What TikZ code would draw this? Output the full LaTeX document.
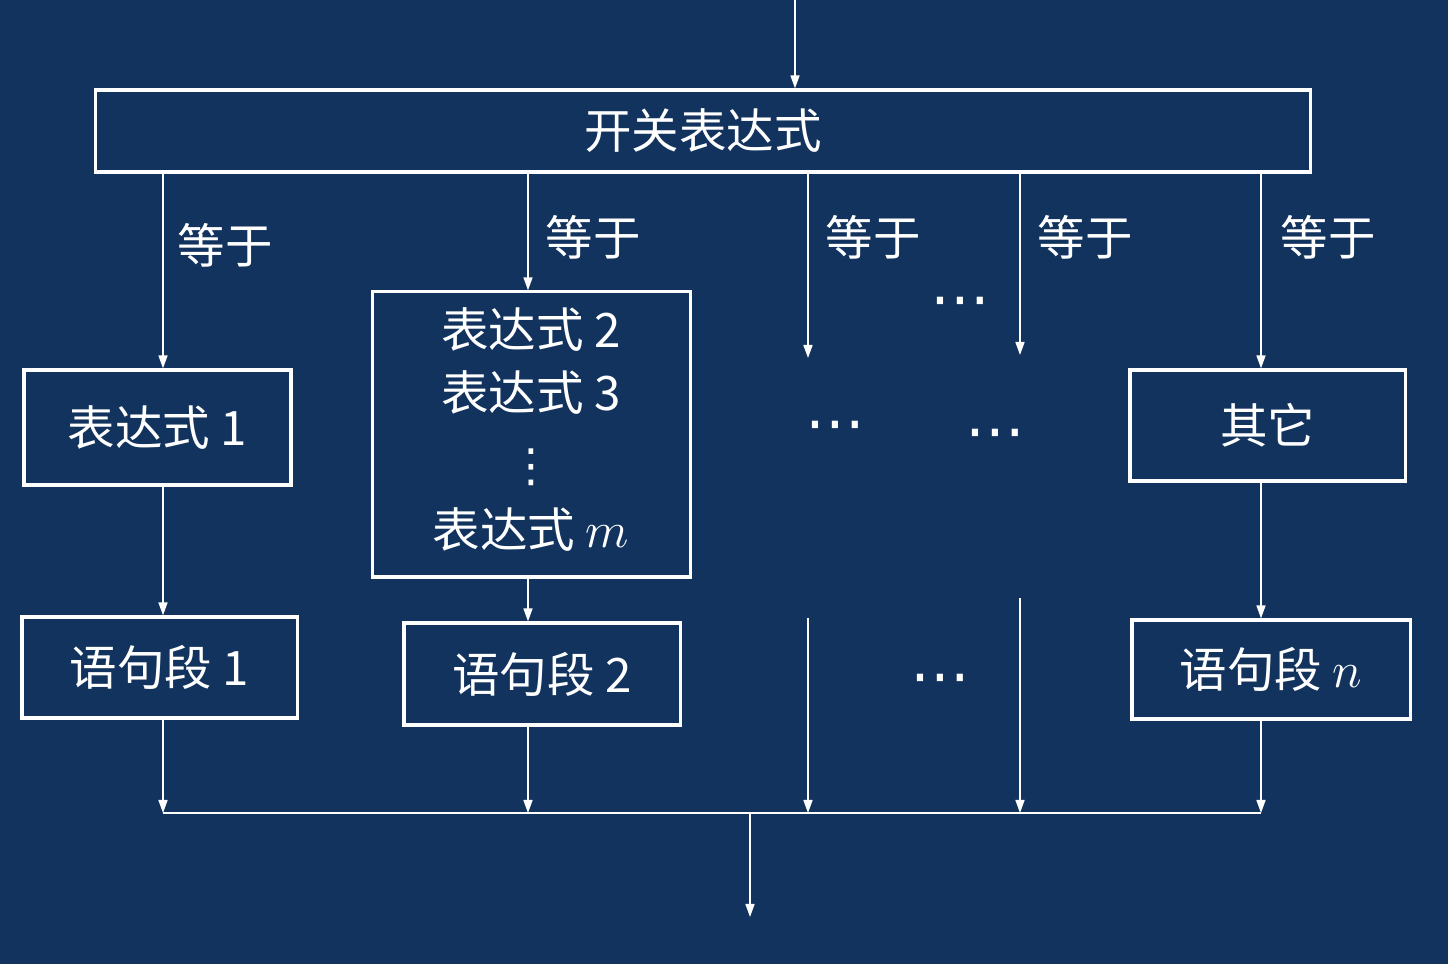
\documentclass[tikz,border=0pt]{standalone}
\usepackage{fontspec}
\setmainfont{Noto Sans CJK SC}
\newfontfamily\symfont{DejaVu Sans}
\usetikzlibrary{arrows.meta}
\definecolor{slidebg}{RGB}{18,51,94}
\newcommand\dotrow{{\symfont\fontsize{17}{18}\selectfont ⋯}}
\newcommand\dotcol{{\symfont\fontsize{13}{14}\selectfont ⋮}}
\tikzset{
  box/.style={draw=white,line width=0.9pt,inner sep=0pt,text=white},
  lbl/.style={text=white,inner sep=0pt},
  flow/.style={draw=white,line width=0.45pt,->}
}
\begin{document}
\begin{tikzpicture}[x=0.01cm,y=-0.01cm,>={Triangle[length=1.3mm,width=0.9mm]},
  font=\fontsize{13.5}{18}\selectfont]
  \fill[slidebg] (0,0) rectangle (1448,964);
  \useasboundingbox (0,0) rectangle (1448,964);
  % columns
  \coordinate (c1) at (163,0);
  \coordinate (c2) at (528,0);
  \coordinate (c3) at (808,0);
  \coordinate (c4) at (1020,0);
  \coordinate (c5) at (1261,0);
  \coordinate (in) at (795,0);
  \coordinate (out) at (750,917);
  \coordinate (bus) at (0,813);
  % boxes
  \node[box,minimum width=12.14cm,minimum height=0.82cm] (switch) at (703,131) {开关表达式};
  \node[box,minimum width=2.67cm,minimum height=1.15cm] (case1) at (157.5,427.5) {表达式 1};
  \node[box,minimum width=3.17cm,minimum height=2.85cm] (case2) at (531.5,434.5) {};
  \node[box,minimum width=2.75cm,minimum height=1.11cm] (other) at (1267.5,425.5) {其它};
  \node[box,minimum width=2.75cm,minimum height=1.01cm] (stmt1) at (159.5,667.5) {语句段 1};
  \node[box,minimum width=2.76cm,minimum height=1.02cm] (stmt2) at (542,674) {语句段 2};
  \node[box,minimum width=2.78cm,minimum height=0.99cm] (stmtn) at (1271,669.5) {语句段 $n$};
  % lines inside case2
  \node[lbl] (expr2) at (531,330) {表达式 2};
  \node[lbl] (expr3) at (531,393) {表达式 3};
  \node[lbl] (vdots) at (531,467) {\dotcol};
  \node[lbl] (exprm) at (531,530) {表达式 $m$};
  % labels
  \node[lbl] (eq1) at (225,245) {等于};
  \node[lbl] (eq2) at (593,237) {等于};
  \node[lbl] (eq3) at (873,237) {等于};
  \node[lbl] (eq4) at (1085,237) {等于};
  \node[lbl] (eq5) at (1328,237) {等于};
  \node[lbl] (dotsA) at (960,308) {\dotrow};
  \node[lbl] (dotsB) at (835,432) {\dotrow};
  \node[lbl] (dotsC) at (995,440) {\dotrow};
  \node[lbl] (dotsD) at (940,685) {\dotrow};
  % free ends
  \coordinate (e3) at (808,358);
  \coordinate (e4) at (1020,355);
  \coordinate (s3) at (808,618);
  \coordinate (s4) at (1020,598);
  % connectors
  \draw[flow] (in) -- (switch.north -| in);
  \draw[flow] (switch.south -| c1) -- (case1.north -| c1);
  \draw[flow] (switch.south -| c2) -- (case2.north -| c2);
  \draw[flow] (switch.south -| c3) -- (e3);
  \draw[flow] (switch.south -| c4) -- (e4);
  \draw[flow] (switch.south -| c5) -- (other.north -| c5);
  \draw[flow] (case1.south -| c1) -- (stmt1.north -| c1);
  \draw[flow] (case2.south -| c2) -- (stmt2.north -| c2);
  \draw[flow] (other.south -| c5) -- (stmtn.north -| c5);
  \draw[flow] (stmt1.south -| c1) -- (bus -| c1);
  \draw[flow] (stmt2.south -| c2) -- (bus -| c2);
  \draw[flow] (s3) -- (bus -| c3);
  \draw[flow] (s4) -- (bus -| c4);
  \draw[flow] (stmtn.south -| c5) -- (bus -| c5);
  \draw[white,line width=0.45pt] (bus -| c1) -- (bus -| c5);
  \draw[flow] (bus -| out) -- (out);
\end{tikzpicture}
\end{document}
